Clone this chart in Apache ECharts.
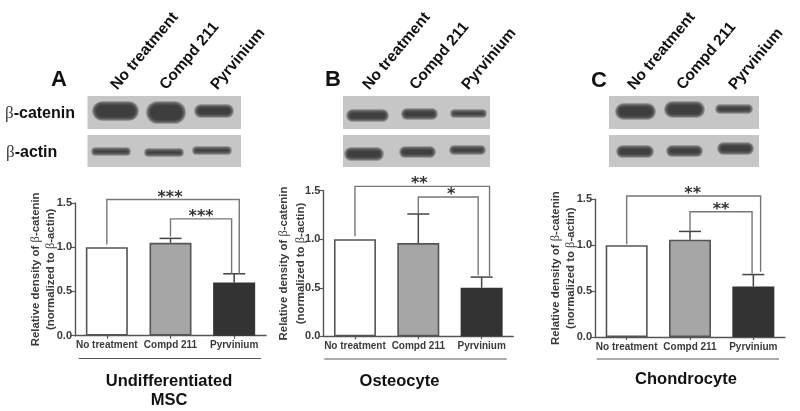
<!DOCTYPE html>
<html>
<head>
<meta charset="utf-8">
<title>Relative density of β-catenin</title>
<script src="https://cdn.jsdelivr.net/npm/echarts@6/dist/echarts.min.js"></script>
<style>
  html, body { margin: 0; padding: 0; background: #fff; }
  #chart { width: 800px; height: 411px; }
</style>
</head>
<body>
<div id="chart"></div>
<script>
const categories = ['No treatment', 'Compd 211', 'Pyrvinium'];
const yTicks = [0, 0.5, 1, 1.5];

const valuesA = [1.0, 1.05, 0.6];
const valuesB = [1.0, 0.96, 0.5];
const valuesC = [1.0, 1.06, 0.55];

// top of the upper error whisker, none on the control bar
const errTopA = [null, 1.10, 0.70];
const errTopB = [null, 1.26, 0.61];
const errTopC = [null, 1.15, 0.68];

// brackets: level of top, level of left foot, level of right foot
const outerA = [1.54, 1.03, 0.70];
const innerA = [1.32, 1.12, 0.70];
const outerB = [1.545, 1.03, 0.62];
const innerB = [1.435, 1.27, 0.63];
const outerC = [1.536, 1.01, 0.71];
const innerC = [1.365, 1.155, 0.69];
const starsA = ['***', '***'];
const starsB = ['**', '*'];
const starsC = ['**', '**'];

const COLORS = { AXIS: '#555555', TEXT: '#3a3a3a', BLACK: '#111111', BRACKET: '#777777', BLOT: '#c6c6c6' };
const BAR_FILL = ['#ffffff', '#a6a6a6', '#333333'];
const FONT = '"Liberation Sans", Arial, sans-serif';
const SERIF = '"Liberation Serif", serif';

const panels = [
  { grid: { left: 75, top: 203, width: 191, height: 132.7 }, values: valuesA, errTop: errTopA, outer: outerA, inner: innerA, stars: starsA, rightShift: [0.08, -0.04], starNudge: [-3, 0], lineGap: 15, nameGap: 17 },
  { grid: { left: 323.3, top: 190.7, width: 190, height: 145.6 }, values: valuesB, errTop: errTopB, outer: outerB, inner: innerB, stars: starsB, rightShift: [0.125, -0.055], starNudge: [-3, 3], lineGap: 17, nameGap: 14 },
  { grid: { left: 595, top: 199.3, width: 190, height: 137.7 }, values: valuesC, errTop: errTopC, outer: outerC, inner: innerC, stars: starsC, rightShift: [0.115, -0.02], starNudge: [-1, 0], lineGap: 15, nameGap: 17 },
];

const series = [];
panels.forEach((p, i) => {
  series.push({
    type: 'bar',
    xAxisIndex: i,
    yAxisIndex: i,
    barWidth: 42,
    silent: true,
    animation: false,
    data: p.values.map((v, k) => ({
      value: v,
      itemStyle: { color: BAR_FILL[k], borderColor: k === 2 ? '#333333' : COLORS.AXIS, borderWidth: 1.6 },
    })),
  });

  series.push({
    type: 'custom',
    xAxisIndex: i,
    yAxisIndex: i,
    silent: true,
    animation: false,
    clip: false,
    z: 1,
    data: p.errTop.map((v, k) => [k, v === null ? p.values[k] : v, p.values[k]]),
    encode: { x: 0, y: 1 },
    renderItem: (params, api) => {
      if (p.errTop[params.dataIndex] === null) return null;
      const top = api.coord([api.value(0), api.value(1)]);
      const base = api.coord([api.value(0), api.value(2)]);
      const lineStyle = { stroke: '#444444', lineWidth: 1.5 };
      return {
        type: 'group',
        children: [
          { type: 'line', shape: { x1: top[0], y1: top[1], x2: base[0], y2: base[1] }, style: lineStyle },
          { type: 'line', shape: { x1: top[0] - 11, y1: top[1], x2: top[0] + 11, y2: top[1] }, style: lineStyle },
        ],
      };
    },
  });

  // significance brackets, outer one spans 0-2 and the inner one 1-2
  const brackets = [
    { from: 0, lv: p.outer, stars: p.stars[0], shift: p.rightShift[0], nudge: p.starNudge[0] },
    { from: 1, lv: p.inner, stars: p.stars[1], shift: p.rightShift[1], nudge: p.starNudge[1] },
  ];
  series.push({
    type: 'custom',
    xAxisIndex: i,
    yAxisIndex: i,
    silent: true,
    animation: false,
    clip: false,
    z: 3,
    data: brackets.map((b) => [b.from, b.lv[0]]),
    encode: { x: 0, y: 1 },
    renderItem: (params, api) => {
      const b = brackets[params.dataIndex];
      const band = api.size([1, 0])[0];
      const left = api.coord([b.from, b.lv[1]]);
      const topY = api.coord([b.from, b.lv[0]])[1];
      const right = api.coord([2, b.lv[2]]);
      const rx = right[0] + b.shift * band;
      return {
        type: 'group',
        children: [
          {
            type: 'polyline',
            shape: { points: [[left[0], left[1]], [left[0], topY], [rx, topY], [rx, right[1]]] },
            style: { stroke: COLORS.BRACKET, lineWidth: 1.4, fill: null },
          },
          {
            type: 'text',
            style: {
              x: (left[0] + rx) / 2 + b.nudge, y: topY - 2, text: b.stars, align: 'center', verticalAlign: 'middle',
              fill: '#333333', font: 'bold 16px "DejaVu Sans", sans-serif',
            },
          },
        ],
      };
    },
  });
});

const yName = '{t|Relative density of }{g|β}{t|-catenin}\n{t|(normalized to }{g|β}{t|-actin)}';

// western blot strips are picture panels, only sketched here
const blots = [
  { x: 87.5, w: 153.5, top: [[92, 101, 47, 20], [146, 101, 40, 23], [194, 104, 40, 14]], bottom: [[91, 147, 40, 9], [144, 148, 40, 9], [192, 146, 40, 9]] },
  { x: 343, w: 147, top: [[346, 109, 43, 13], [401, 108, 37, 12], [450, 109, 37, 9]], bottom: [[344, 147, 40, 14], [399, 146, 37, 12], [449, 145, 37, 10]] },
  { x: 609, w: 150, top: [[615, 103, 41, 17], [664, 101, 41, 17], [715, 104, 38, 10]], bottom: [[616, 145, 38, 13], [666, 145, 37, 12], [717, 142, 37, 13]] },
];
const graphic = [];
blots.forEach((b) => {
  graphic.push({ type: 'rect', shape: { x: b.x, y: 96, width: b.w, height: 33 }, style: { fill: COLORS.BLOT } });
  graphic.push({ type: 'rect', shape: { x: b.x, y: 135, width: b.w, height: 32 }, style: { fill: COLORS.BLOT } });
  // nested translucent layers give the bands a soft edge
  b.top.concat(b.bottom).forEach((r) => {
    for (let d = 0; d < 8; d++) {
      const inset = d * 0.65;
      const h = Math.max(r[3] - 2 * inset, 1);
      graphic.push({
        type: 'rect',
        shape: { x: r[0] + inset, y: r[1] + (r[3] - h) / 2, width: r[2] - 2 * inset, height: h, r: h / 2 },
        style: { fill: 'rgba(50,50,50,0.26)' },
      });
    }
  });
});

const rotated = (text, x, y) => ({
  type: 'text',
  x, y,
  rotation: 50 * Math.PI / 180,
  style: { text, fill: COLORS.BLACK, font: `bold 15.5px ${FONT}`, align: 'left', verticalAlign: 'bottom' },
});
[[120, 93], [169, 93], [220, 93], [372, 93], [419, 93], [471, 93], [637, 93], [686, 93], [738, 93]].forEach((pos, k) => {
  graphic.push(rotated(categories[k % 3], pos[0], pos[1]));
});

const plainText = (text, x, y, size, align) => ({
  type: 'text',
  x, y,
  style: { text, fill: COLORS.BLACK, font: `bold ${size}px ${FONT}`, align: align || 'center', verticalAlign: 'middle' },
});
graphic.push(plainText('A', 59, 80, 22));
graphic.push(plainText('B', 333, 80, 22));
graphic.push(plainText('C', 599, 81, 22));
graphic.push(plainText('Undifferentiated', 169, 381, 16.5));
graphic.push(plainText('MSC', 169, 400, 16.5));
graphic.push(plainText('Osteocyte', 399.5, 381, 16.5));
graphic.push(plainText('Chondrocyte', 686, 379, 16.5));

const blotLabel = (name, x, y) => ({
  type: 'text',
  x, y,
  style: {
    text: `{g|β}{t|-${name}}`,
    align: 'left',
    verticalAlign: 'middle',
    rich: {
      g: { font: `17px ${SERIF}`, fill: COLORS.TEXT, color: COLORS.TEXT },
      t: { font: `bold 16px ${FONT}`, fill: COLORS.BLACK, color: COLORS.BLACK },
    },
  },
});
graphic.push(blotLabel('catenin', 5, 114));
graphic.push(blotLabel('actin', 6, 153));

[[78.7, 261, 358.5], [324.3, 506.7, 359], [596.7, 779, 359]].forEach((l) => {
  graphic.push({ type: 'line', shape: { x1: l[0], y1: l[2], x2: l[1], y2: l[2] }, style: { stroke: COLORS.AXIS, lineWidth: 1 } });
});

const option = {
  backgroundColor: '#ffffff',
  animation: false,
  textStyle: { fontFamily: FONT },
  grid: panels.map((p) => p.grid),
  xAxis: panels.map((p, i) => ({
    type: 'category',
    gridIndex: i,
    data: categories,
    axisLine: { lineStyle: { color: COLORS.AXIS, width: 1.4 } },
    axisTick: { show: true, alignWithLabel: true, length: 3, lineStyle: { color: COLORS.AXIS, width: 1.2 } },
    axisLabel: { interval: 0, color: COLORS.TEXT, fontWeight: 'bold', fontSize: 10, margin: 5, fontFamily: FONT },
  })),
  yAxis: panels.map((p, i) => ({
    type: 'value',
    gridIndex: i,
    min: yTicks[0],
    max: yTicks[yTicks.length - 1],
    interval: 0.5,
    splitLine: { show: false },
    axisLine: { show: true, lineStyle: { color: COLORS.AXIS, width: 1.4 } },
    axisTick: { show: true, length: 4, lineStyle: { color: COLORS.AXIS, width: 1.2 } },
    axisLabel: { color: COLORS.TEXT, fontWeight: 'bold', fontSize: 11, margin: 3, formatter: (v) => v.toFixed(1), fontFamily: FONT },
    name: yName,
    nameLocation: 'middle',
    nameGap: p.nameGap,
    nameMoveOverlap: false,
    nameRotate: 90,
    nameTextStyle: {
      lineHeight: p.lineGap,
      rich: {
        t: { fontFamily: FONT, fontWeight: 'bold', fontSize: 11.4, color: COLORS.TEXT, lineHeight: p.lineGap },
        g: { fontFamily: SERIF, fontSize: 12.5, color: COLORS.TEXT, lineHeight: p.lineGap },
      },
    },
  })),
  series,
  graphic: { elements: graphic },
};

const myChart = echarts.init(document.getElementById('chart'));
myChart.setOption(option);
</script>
</body>
</html>
